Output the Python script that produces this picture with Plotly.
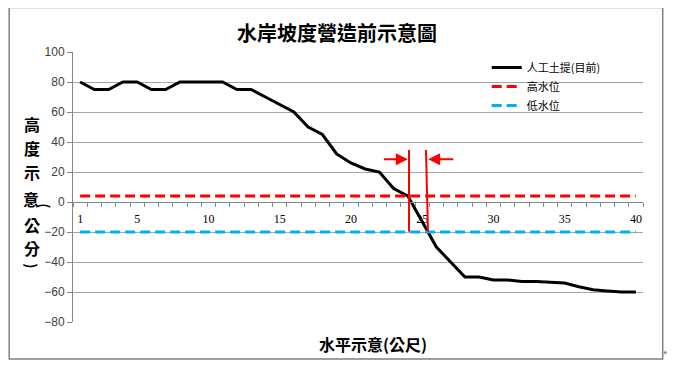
import plotly.graph_objects as go

# ---- data ----
categories = list(range(1, 41))
embankment = [80, 75, 75, 80, 80, 75, 75, 80, 80, 80,
              80, 75, 75, 70, 65, 60, 50, 45, 32, 26,
              22, 20, 9, 4, -13, -30, -40, -50, -50, -52,
              -52, -53, -53, -53.5, -54, -56.5, -58.5, -59.3, -60, -60]
high_water = [4] * 40
low_water = [-20] * 40
x_tick_vals = [1, 5, 10, 15, 20, 25, 30, 35, 40]
y_tick_vals = [100, 80, 60, 40, 20, 0, -20, -40, -60, -80]

series_names = ["人工土提(目前)", "高水位", "低水位"]
title_text = "水岸坡度營造前示意圖"
x_title = "水平示意(公尺)"
y_title_chars = ["高", "度", "示", "意", "(", "公", "分", ")"]

# red marker lines (data coords) and arrows
marker_lines = [((24.08, 34.7), (24.08, -19.8)), ((25.27, 34.7), (25.41, -19.8))]
arrows = [((22.21, 28.5), (24.0, 28.5)), ((27.29, 28.5), (25.42, 28.5))]

CJK = "Noto Sans CJK TC"

# page has an 8px body margin: window pixel -> paper helpers
PL, PT, PW, PH = 73.3, 52.0, 570.0, 270.0
def px(x):
    return (x - PL) / PW
def py(y):
    return 1 - (y - PT) / PH

fig = go.Figure()
fig.add_trace(go.Scatter(x=categories, y=embankment, mode="lines", name=series_names[0],
                         line=dict(color="#000000", width=3)))
fig.add_trace(go.Scatter(x=categories, y=high_water, mode="lines", name=series_names[1],
                         line=dict(color="#FF0000", width=3, dash="10px,5px")))
fig.add_trace(go.Scatter(x=categories, y=low_water, mode="lines", name=series_names[2],
                         line=dict(color="#00B0F0", width=3, dash="10px,5px")))

shapes = []
for (x0, y0), (x1, y1) in marker_lines:
    shapes.append(dict(type="line", xref="x", yref="y", x0=x0, y0=y0, x1=x1, y1=y1,
                       line=dict(color="#FF0000", width=2)))
# outer border
shapes.append(dict(type="rect", xref="paper", yref="paper",
                   x0=px(9.5), x1=px(663), y0=py(359), y1=py(7.5),
                   line=dict(color="#808080", width=1.5), layer="below"))

annotations = []
for (tx, ty), (hx, hy) in arrows:
    annotations.append(dict(x=hx, y=hy, ax=tx, ay=ty, xref="x", yref="y", axref="x", ayref="y",
                            showarrow=True, arrowhead=2, arrowsize=1.2, arrowwidth=2,
                            arrowcolor="#FF0000", text=""))
annotations.append(dict(text=f"<b>{title_text}</b>", x=px(337), y=py(33),
                        xref="paper", yref="paper", showarrow=False,
                        xanchor="center", yanchor="middle",
                        font=dict(family=CJK, size=20, color="#000000")))
annotations.append(dict(text=f"<b>{x_title}</b>", x=px(373), y=py(344),
                        xref="paper", yref="paper", showarrow=False,
                        xanchor="center", yanchor="middle",
                        font=dict(family=CJK, size=16, color="#000000")))
y_char_pos = [(32, 124), (32, 148), (32, 172), (31, 199), (45, 206), (32, 225), (32, 248), (32, 266)]
for ch, (cx, cy) in zip(y_title_chars, y_char_pos):
    rotated = ch in "()"
    annotations.append(dict(text=f"<b>{ch}</b>", x=px(cx), y=py(cy),
                            xref="paper", yref="paper", showarrow=False,
                            xanchor="center", yanchor="middle",
                            textangle=90 if rotated else 0,
                            font=dict(family=CJK, size=14 if rotated else 16, color="#000000")))
annotations.append(dict(text="↵", x=px(667), y=py(352), xanchor="center", yanchor="middle",
                        xref="paper", yref="paper", showarrow=False,
                        font=dict(family="DejaVu Sans", size=10, color="#808080")))

fig.update_layout(
    width=667, height=359,
    margin=dict(l=65.3, r=31.7, t=44, b=45, autoexpand=False),
    paper_bgcolor="white", plot_bgcolor="white",
    showlegend=True,
    legend=dict(x=px(487), y=py(53), xanchor="left", yanchor="top",
                bgcolor="rgba(0,0,0,0)", font=dict(family=CJK, size=11, color="#000000"),
                tracegroupgap=0, itemwidth=30),
    shapes=shapes,
    annotations=annotations,
    xaxis=dict(range=[0.5, 40.5], tickmode="array", tickvals=x_tick_vals,
               ticks="", showgrid=False, zeroline=False,
               showline=True, linecolor="#868686", linewidth=1,
               anchor="free", position=80 / 180, ticklabelstandoff=6,
               tickfont=dict(family="Liberation Serif", size=12, color="#000000"),
               minor=dict(tickmode="linear", tick0=0.5, dtick=1, ticks="outside",
                          ticklen=4, tickcolor="#868686", showgrid=False)),
    yaxis=dict(range=[-80, 100], tickmode="array", tickvals=y_tick_vals,
               showgrid=True, gridcolor="#a6a6a6", gridwidth=1, zeroline=False,
               showline=True, linecolor="#868686", linewidth=1,
               ticks="outside", ticklen=5, tickcolor="#868686",
               tickfont=dict(family="Liberation Sans Narrow, Liberation Sans", size=12, color="#404040")),
)

fig.write_html("out.html")
